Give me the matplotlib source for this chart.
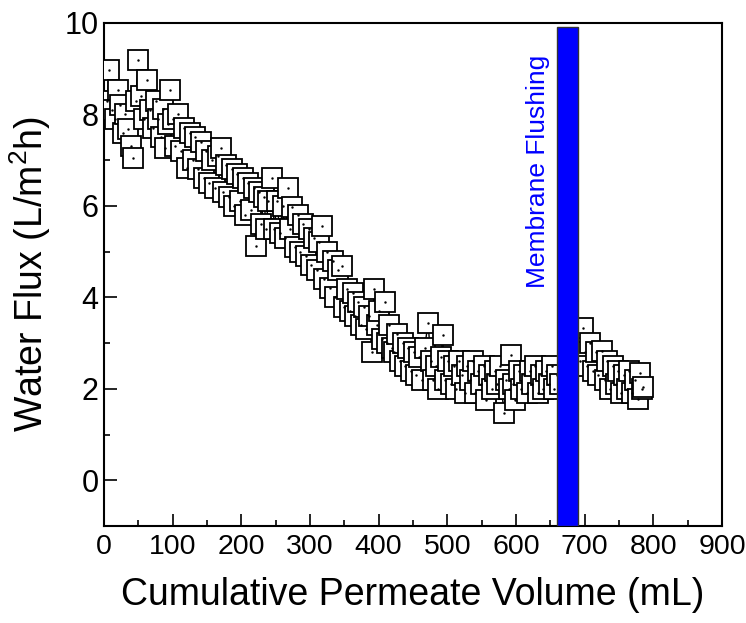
import matplotlib
matplotlib.use("Agg")
import matplotlib.pyplot as plt
from matplotlib.ticker import MultipleLocator

plt.rcParams['font.family'] = ['Liberation Sans', 'DejaVu Sans']
plt.rcParams['mathtext.fontset'] = 'custom'
plt.rcParams['mathtext.rm'] = 'Liberation Sans'
plt.rcParams['mathtext.it'] = 'Liberation Sans'

# Before membrane flushing
x_before = [4, 8, 12, 16, 20, 24, 28, 31, 35, 39, 42, 46, 50, 54, 58, 63, 67, 71, 75, 79,
            83, 86, 89, 93, 96, 100, 104, 108, 112, 116, 121, 125, 129, 133, 137, 141, 145, 149, 153, 157,
            161, 166, 170, 174, 178, 182, 186, 190, 194, 198, 202, 206, 210, 214, 218, 221, 225, 229, 233, 236,
            239, 244, 248, 252, 256, 260, 264, 268, 271, 274, 278, 282, 286, 290, 294, 298, 302, 306, 310, 313,
            317, 321, 325, 329, 333, 337, 341, 346, 350, 354, 358, 362, 366, 370, 374, 378, 382, 386, 390, 393,
            397, 401, 405, 409, 412, 415, 419, 423, 427, 431, 435, 439, 443, 447, 451, 455, 459, 463, 467, 472,
            476, 479, 483, 487, 491, 493, 497, 501, 505, 509, 513, 517, 521, 525, 529, 533, 537, 541, 545, 549,
            553, 557, 561, 565, 569, 573, 577, 582, 586, 590, 592, 596, 598, 604, 608, 612, 616, 620, 624, 628,
            632, 636, 640, 644, 648, 652, 656, 660, 664]
y_before = [8.3, 8.97, 8.1, 7.9, 8.54, 8.2, 7.6, 8.0, 7.69, 7.3, 7.05, 8.3, 9.19, 8.4, 7.9, 8.76, 8.1, 7.7, 8.3, 7.9,
            7.5, 8.12, 7.27, 7.8, 8.54, 7.9, 7.3, 8.0, 7.2, 7.7, 6.83, 7.6, 7.0, 7.5, 6.8, 7.4, 6.6, 7.2, 6.5, 7.0,
            6.4, 7.1, 7.27, 6.3, 6.9, 6.2, 6.8, 6.0, 6.7, 6.1, 6.6, 5.8, 6.5, 5.9, 6.4, 5.13, 6.3, 5.6, 6.2, 5.5,
            6.1, 6.62, 5.5, 6.1, 5.4, 6.0, 5.3, 6.40, 5.5, 5.98, 5.1, 5.8, 5.0, 5.6, 4.9, 5.5, 4.7, 5.3, 4.6, 5.2,
            5.55, 4.4, 5.0, 4.2, 4.8, 4.0, 4.6, 4.69, 3.8, 4.19, 3.7, 4.1, 3.6, 3.9, 3.4, 3.8, 3.3, 3.6, 2.8, 4.19,
            3.4, 3.7, 3.1, 3.89, 3.0, 3.4, 2.9, 2.8, 3.2, 2.6, 3.0, 2.5, 2.9, 2.4, 2.8, 2.3, 2.7, 2.2, 2.9, 3.45,
            2.6, 2.2, 2.5, 2.0, 2.7, 3.17, 2.2, 2.6, 2.1, 2.5, 2.0, 2.6, 2.3, 1.9, 2.5, 2.2, 2.6, 1.9, 2.4, 2.1,
            2.5, 1.75, 2.3, 2.0, 2.4, 2.1, 2.5, 1.48, 2.2, 2.0, 2.73, 2.1, 1.75, 2.4, 2.0, 2.3, 1.9, 2.4, 2.1, 2.5,
            1.9, 2.3, 2.0, 2.4, 2.1, 2.5, 2.0, 2.3, 2.1]

# After membrane flushing
x_after = [693, 697, 700, 704, 708, 712, 716, 720, 725, 729, 733, 737, 741, 745, 749, 753, 757, 761, 765, 769,
           773, 778, 780, 783, 785]
y_after = [2.6, 3.32, 2.8, 2.5, 3.0, 2.4, 2.8, 2.3, 2.82, 2.2, 2.6, 2.0, 2.5, 2.1, 2.4, 1.9, 2.3, 2.0, 2.4, 1.9,
           2.2, 1.77, 2.34, 2.0, 2.05]

flush_start = 660
flush_end = 690
flush_label = "Membrane Flushing"

xlabel = "Cumulative Permeate Volume (mL)"
ylabel = "Water Flux (L/m$^2$h)"

fig = plt.figure(figsize=(7.46, 6.23), dpi=100)
ax = fig.add_axes([104 / 746, 1 - 526 / 623, 618 / 746, 503 / 623])

for xs, ys in ((x_before, y_before), (x_after, y_after)):
    ax.plot(xs, ys, color='black', lw=1.0, marker='s', ms=15.0, mfc='white', mec='black', mew=1.3, zorder=3)
    ax.plot(xs, ys, ls='none', marker='.', ms=1.5, color='black', zorder=4)

ax.axvspan(flush_start, flush_end, ymin=0, ymax=(9.92 + 1) / 11, facecolor='#0000ff', edgecolor='#333333',
           lw=1.0, zorder=5)
ax.text(632, 6.75, flush_label, rotation=90, color='#0000ff', fontsize=19, ha='center', va='center', zorder=6)

ax.set_xlim(0, 900)
ax.set_ylim(-1, 10)
ax.xaxis.set_major_locator(MultipleLocator(100))
ax.xaxis.set_minor_locator(MultipleLocator(50))
ax.yaxis.set_major_locator(MultipleLocator(2))
ax.yaxis.set_minor_locator(MultipleLocator(1))
ax.tick_params(which='major', direction='in', length=9, width=1.2, labelsize=22)
ax.tick_params(axis='x', which='major', pad=6, labelsize=20.5)
ax.tick_params(axis='y', which='major', pad=4)
ax.tick_params(which='minor', direction='in', length=4.5, width=1.2)
for s in ax.spines.values():
    s.set_linewidth(1.5)

ax.set_xlabel(xlabel, fontsize=27, labelpad=12)
ax.set_ylabel(ylabel, fontsize=27, labelpad=8)

fig.savefig("out.png", dpi=100)
